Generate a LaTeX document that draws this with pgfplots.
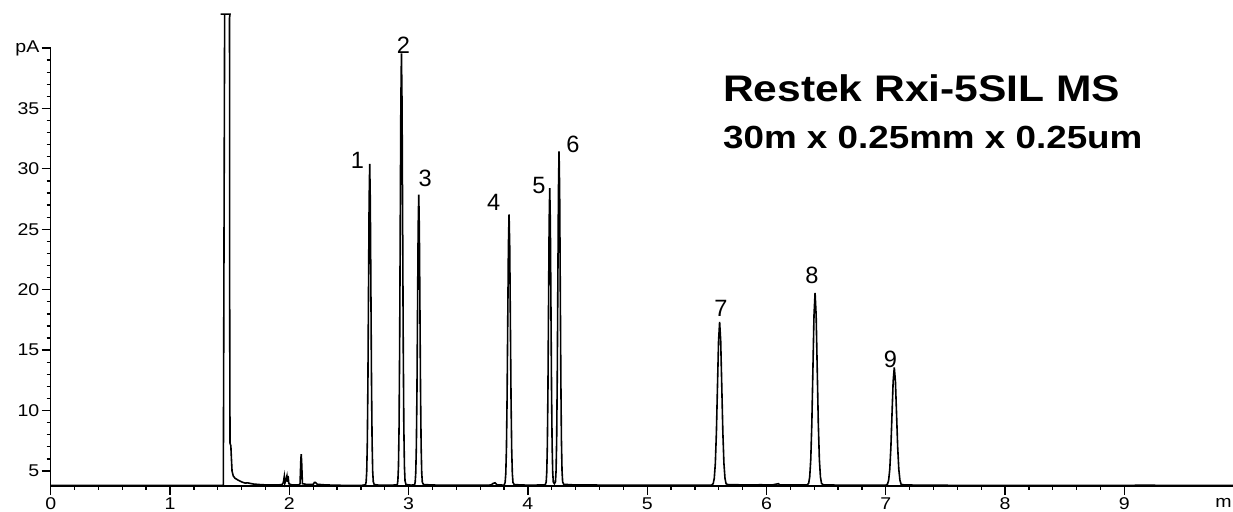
\documentclass[border=0pt]{standalone}
\usepackage{fontspec}
\setmainfont{Liberation Sans}[FakeStretch=1.15]
\newfontfamily\plainsans{Liberation Sans}
\usepackage{pgfplots}
\pgfplotsset{compat=1.18}
\begin{document}
\begin{tikzpicture}
\path[use as bounding box] (-25.35pt,-13pt) rectangle (591.15pt,243pt);
\begin{axis}[
  at={(0,0)}, anchor=south west,
  scale only axis, width=591.15pt, height=219pt,
  xmin=0, xmax=9.91, ymin=3.76, ymax=40,
  clip=false,
  axis x line=bottom, axis y line=left,
  axis line style={-, line width=0.8pt, black},
  tick align=outside, major tick length=4.5pt, minor tick length=2pt,
  every tick/.style={black, line width=0.65pt},
  xtick={0,1,...,9}, minor x tick num=4,
  ytick={5,10,...,40}, yticklabels={5,10,15,20,25,30,35,pA}, minor y tick num=4,
  /pgf/number format/assume math mode=true,
  tick label style={font=\fontsize{8.5pt}{10pt}\selectfont},
  yticklabel style={inner sep=1.0pt},
  xticklabel style={inner sep=1.0pt},
]
\addplot[black, line width=0.8pt] coordinates {
(0,3.80) (1.000,3.80) (1.447,3.80) (1.458,42.80) (1.425,42.80) (1.503,42.80) (1.499,42.5) (1.500,20.0)
(1.503,7.30) (1.510,7.10) (1.514,6.20) (1.520,5.00) (1.530,4.60) (1.545,4.40) (1.570,4.25) (1.600,4.10)
(1.630,4.00) (1.650,4.02) (1.700,3.92) (1.750,3.88) (1.800,3.85) (1.900,3.84) (1.940,3.88) (1.950,4.05)
(1.958,4.55) (1.963,4.00) (1.972,4.30) (1.980,4.60) (1.985,4.10) (1.990,4.60) (1.996,3.95) (2.020,3.85)
(2.080,3.85) (2.090,3.95) (2.097,6.00) (2.100,6.40) (2.104,5.60) (2.110,3.95) (2.150,3.88) (2.200,3.88)
(2.210,4.05) (2.220,4.05) (2.235,3.90) (2.300,3.85) (2.400,3.82) (2.600,3.80)
(2.639,3.86) (2.644,4.10) (2.649,4.97) (2.654,7.40) (2.659,12.44) (2.664,19.93) (2.669,27.27) (2.674,30.40)
(2.679,27.27) (2.684,19.93) (2.689,12.44) (2.694,7.40) (2.699,4.97) (2.704,4.10) (2.712,3.88) (2.750,3.83)
(2.850,3.82) (2.905,3.86)
(2.910,4.20) (2.915,5.37) (2.920,8.64) (2.925,15.41) (2.930,25.49) (2.935,35.36) (2.940,39.56)
(2.945,35.36) (2.950,25.49) (2.955,15.41) (2.960,8.64) (2.965,5.37) (2.970,4.20) (2.978,3.88)
(3.020,3.83) (3.050,3.86)
(3.055,4.07) (3.060,4.86) (3.065,7.06) (3.070,11.61) (3.075,18.39) (3.080,25.03) (3.085,27.86)
(3.090,25.03) (3.095,18.39) (3.100,11.61) (3.105,7.06) (3.110,4.86) (3.115,4.07) (3.125,3.88)
(3.200,3.84) (3.300,3.83) (3.400,3.82) (3.500,3.83) (3.600,3.82) (3.690,3.84) (3.710,3.98) (3.725,4.02)
(3.740,3.86) (3.800,3.83)
(3.809,4.05) (3.8145,4.78) (3.820,6.83) (3.8255,11.08) (3.831,17.40) (3.8365,23.59) (3.842,26.23)
(3.8475,23.59) (3.853,17.40) (3.8585,11.08) (3.864,6.83) (3.8695,4.78) (3.875,4.05) (3.885,3.88)
(3.950,3.84) (4.050,3.83) (4.145,3.86)
(4.153,4.07) (4.158,4.88) (4.163,7.13) (4.168,11.79) (4.173,18.73) (4.178,25.52) (4.183,28.41)
(4.188,25.52) (4.193,18.73) (4.198,11.79) (4.203,7.13) (4.208,4.88) (4.213,4.07) (4.222,3.95)
(4.231,4.11) (4.236,5.01) (4.241,7.54) (4.246,12.78) (4.251,20.57) (4.256,28.20) (4.261,31.45)
(4.266,28.20) (4.271,20.57) (4.276,12.78) (4.281,7.54) (4.286,5.01) (4.291,4.11) (4.300,3.90)
(4.400,3.84) (4.550,3.85) (4.600,3.83) (4.800,3.82) (5.000,3.82) (5.200,3.82) (5.400,3.82) (5.540,3.83)
(5.553,3.95) (5.562,4.39) (5.571,5.63) (5.580,8.20) (5.589,12.01) (5.598,15.75) (5.607,17.34)
(5.616,15.75) (5.625,12.01) (5.634,8.20) (5.643,5.63) (5.652,4.39) (5.661,3.95) (5.675,3.88)
(5.750,3.86) (5.850,3.85) (5.950,3.86) (6.050,3.85) (6.100,3.95) (6.110,3.85) (6.200,3.84) (6.340,3.84)
(6.353,3.98) (6.362,4.50) (6.371,5.96) (6.380,8.98) (6.389,13.47) (6.398,17.87) (6.407,19.74)
(6.416,17.87) (6.425,13.47) (6.434,8.98) (6.443,5.96) (6.452,4.50) (6.461,3.98) (6.475,3.86)
(6.600,3.83) (6.800,3.82) (7.000,3.83)
(7.014,3.91) (7.0235,4.23) (7.033,5.12) (7.0425,6.97) (7.052,9.73) (7.0615,12.42) (7.071,13.57)
(7.0805,12.42) (7.090,9.73) (7.0995,6.97) (7.109,5.12) (7.1185,4.23) (7.128,3.91) (7.145,3.86)
(7.200,3.84) (7.400,3.82) (7.800,3.81) (8.200,3.81) (8.600,3.81) (9.000,3.81) (9.250,3.83) (9.260,3.81)
(9.600,3.81) (9.910,3.81)
};
\begin{scope}[every node/.style={inner sep=0pt, font=\plainsans\fontsize{11.8pt}{13pt}\selectfont}]
\node at (axis cs:2.572,30.68) {1};
\node at (axis cs:2.956,40.25) {2};
\node at (axis cs:3.140,29.22) {3};
\node at (axis cs:3.713,27.23) {4};
\node at (axis cs:4.092,28.66) {5};
\node at (axis cs:4.378,32.03) {6};
\node at (axis cs:5.617,18.43) {7};
\node at (axis cs:6.380,21.19) {8};
\node at (axis cs:7.038,14.27) {9};
\end{scope}
\node[anchor=base west, inner sep=0pt, font=\fontsize{18.5pt}{20pt}\selectfont\bfseries] at (axis cs:5.633,35.61) {Restek Rxi-5SIL MS};
\node[anchor=base west, inner sep=0pt, font=\fontsize{16pt}{18pt}\selectfont\bfseries] at (axis cs:5.633,31.68) {30m x 0.25mm x 0.25um};
\node[anchor=base, inner sep=0pt, font=\fontsize{8.5pt}{10pt}\selectfont] at (axis cs:9.83,3.76) [yshift=-10.8pt] {m};
\end{axis}
\end{tikzpicture}
\end{document}
